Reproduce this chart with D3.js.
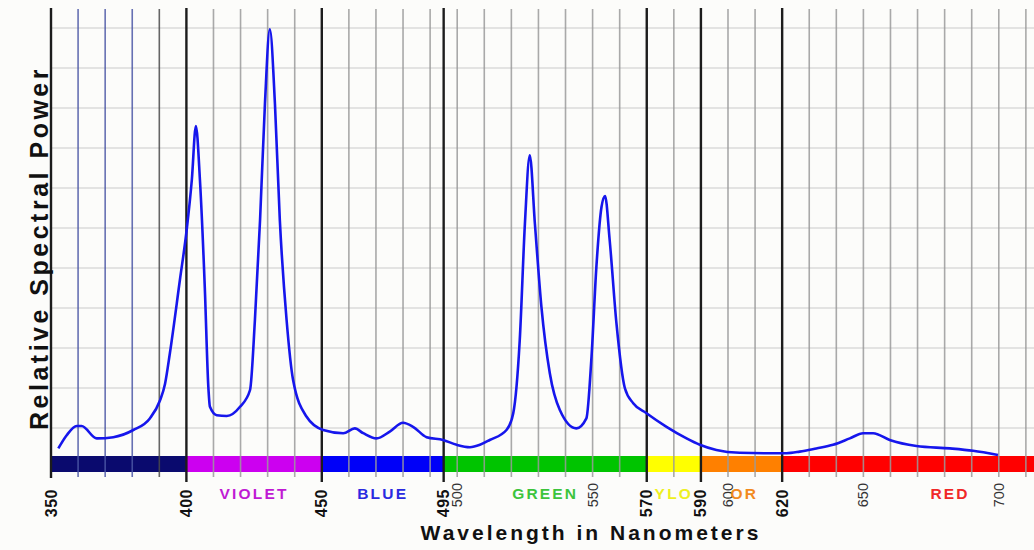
<!DOCTYPE html>
<html>
    <head>
        <title>Relative Spectral Power</title>
        <script src="https://d3js.org/d3.v7.min.js"></script>
    </head>
    <style>
        body { margin: 0; background: #fcfcfa; }
        svg { display: block; font-family: "Liberation Sans", Arial, sans-serif; }
    </style>
    <body>
        <div class="graph"></div>
        <script>
            // spectrum (nm, relative power)
            const wavelengths = [352.7, 355.8, 359.5, 361.3, 366.9, 373, 380.4, 386.5, 390.2, 392.1,
                393.9, 397.6, 400.1, 402, 403.5, 405, 406.8, 408.1, 408.7, 411.2,
                414.9, 419.8, 423.5, 425.3, 427.2, 429, 430.8, 432.7, 434.5, 437,
                439.4, 444.4, 450.5, 457.9, 462.2, 465.3, 470.2, 475.1, 480, 483.7,
                488.7, 494.8, 499.8, 504.7, 508.4, 512, 518.2, 520.7, 523.1, 525,
                526.8, 528.7, 531.1, 534.2, 537.9, 544, 547.7, 549.6, 551.4, 553.3,
                554.6, 556.3, 558.8, 561.9, 565, 569.9, 577.3, 584.7, 589.6, 595.7,
                604.3, 614.2, 621.6, 626.5, 632.6, 638.8, 645, 649.9, 653.6, 659.7,
                669.6, 681.9, 690.5, 699.7];
            const power = [4.9, 8.2, 10.5, 10.5, 7.4, 7.7, 9.5, 12.4, 16.8, 21,
                28.7, 47, 59.5, 72, 85.5, 72, 45, 20.3, 15.3, 13.2,
                13, 15.3, 19.5, 37, 62, 91, 109.7, 91, 62, 37,
                22, 12.8, 9.5, 8.7, 9.9, 8.7, 7.4, 9.1, 11.3, 10.3,
                7.7, 7, 5.8, 5.2, 5.8, 7, 9.5, 13.7, 32, 61,
                78.2, 61, 40.3, 23.7, 14.5, 9.9, 12.4, 27.8, 50.3, 65.3,
                68, 57, 36.2, 20, 16.2, 13.7, 10.3, 7.4, 5.8, 4.5,
                3.8, 3.7, 3.7, 4.1, 4.9, 5.8, 7.4, 8.7, 8.7, 7,
                5.5, 4.9, 4.3, 3.25];

            const majorTicks = [350, 400, 450, 495, 570, 590, 620];
            const minorLabels = [500, 550, 600, 650, 700];
            const gridLines = d3.range(360, 711, 10);
            const powerGrid = [10, 20, 30, 40, 50, 60, 70, 80, 90, 100, 110];

            const bandEdges = [350, 400, 450, 495, 570, 590, 620, 713];
            const bandNames = ['', 'VIOLET', 'BLUE', 'GREEN', 'YLO', 'OR', 'RED'];
            const bandNameAt = [375, 425, 472.5, 532.5, 580, 606, 682];

            const bandColours = ['#0a0a6e', '#cc00f0', '#0000f8', '#00c400', '#ffff00', '#ff8000', '#ff0000'];
            const nameColours = ['#000', '#c01ad4', '#2a2ae0', '#3cc43c', '#eef020', '#f28a1e', '#f02828'];

            const width = 1034;
            const height = 550;
            const bandTop = 456;
            const bandBottom = 472;

            const x = d3.scaleLinear()
                .domain([350, 713])
                .range([51, 1034]);

            const y = d3.scaleLinear()
                .domain([0, 115])
                .range([468, 8]);

            const chart = d3.select('.graph')
                .append('svg')
                .attr('width', width)
                .attr('height', height);

            // horizontal grid
            chart.append('g')
                .selectAll('line')
                .data(powerGrid)
                .enter()
                .append('line')
                .attr('x1', x(350))
                .attr('x2', x(713))
                .attr('y1', d => y(d))
                .attr('y2', d => y(d))
                .attr('stroke', '#c9c9c9')
                .attr('stroke-width', 1.2);

            // colour band
            chart.append('g')
                .selectAll('rect')
                .data(bandEdges.slice(0, -1))
                .enter()
                .append('rect')
                .attr('x', d => x(d))
                .attr('width', (d, i) => x(bandEdges[i + 1]) - x(d))
                .attr('y', bandTop)
                .attr('height', bandBottom - bandTop)
                .attr('fill', (d, i) => bandColours[i]);

            // minor vertical grid
            const minor = gridLines.filter(d => majorTicks.indexOf(d) < 0);
            chart.append('g')
                .selectAll('line')
                .data(minor)
                .enter()
                .append('line')
                .attr('x1', d => x(d))
                .attr('x2', d => x(d))
                .attr('y1', 9)
                .attr('y2', 477)
                .attr('stroke', d => d < 390 ? '#4b57a6' : (d == 390 ? '#4a4a4a' : '#9a9a9a'))
                .attr('stroke-opacity', 0.85)
                .attr('stroke-width', 1.6);

            // major vertical lines
            chart.append('g')
                .selectAll('line')
                .data(majorTicks)
                .enter()
                .append('line')
                .attr('x1', d => x(d))
                .attr('x2', d => x(d))
                .attr('y1', 8)
                .attr('y2', d => d == 350 ? 478 : 482)
                .attr('stroke', '#1c1c1c')
                .attr('stroke-width', 2.4);

            // spectrum
            const line = d3.line()
                .x(d => x(d[0]))
                .y(d => y(d[1]))
                .curve(d3.curveMonotoneX);

            chart.append('path')
                .datum(wavelengths.map((w, i) => [w, power[i]]))
                .attr('d', line)
                .attr('fill', 'none')
                .attr('stroke', '#1616ec')
                .attr('stroke-width', 2.6)
                .attr('stroke-linejoin', 'round');

            // tick labels
            chart.append('g')
                .selectAll('text')
                .data(majorTicks)
                .enter()
                .append('text')
                .attr('transform', d => `translate(${x(d)}, 489) rotate(-90)`)
                .attr('text-anchor', 'end')
                .attr('dominant-baseline', 'central')
                .attr('font-size', 16)
                .attr('font-weight', 'bold')
                .attr('letter-spacing', 0.5)
                .attr('fill', '#111')
                .text(d => d);

            chart.append('g')
                .selectAll('text')
                .data(minorLabels)
                .enter()
                .append('text')
                .attr('transform', d => `translate(${x(d)}, 483) rotate(-90)`)
                .attr('text-anchor', 'end')
                .attr('dominant-baseline', 'central')
                .attr('font-size', 14.5)
                .attr('fill', '#333')
                .text(d => d);

            // colour names
            chart.append('g')
                .selectAll('text')
                .data(bandNames)
                .enter()
                .append('text')
                .attr('x', (d, i) => x(bandNameAt[i]))
                .attr('y', 498.5)
                .attr('text-anchor', 'middle')
                .attr('font-size', 15.5)
                .attr('font-weight', 'bold')
                .attr('letter-spacing', 2.2)
                .attr('fill', (d, i) => nameColours[i])
                .text(d => d);

            // axis titles
            chart.append('text')
                .attr('x', 591)
                .attr('y', 540)
                .attr('text-anchor', 'middle')
                .attr('font-size', 21)
                .attr('font-weight', 'bold')
                .attr('letter-spacing', 3)
                .attr('fill', '#111')
                .text('Wavelength in Nanometers');

            chart.append('text')
                .attr('transform', 'translate(48, 248) rotate(-90)')
                .attr('text-anchor', 'middle')
                .attr('font-size', 25)
                .attr('font-weight', 'bold')
                .attr('letter-spacing', 3.5)
                .attr('fill', '#111')
                .text('Relative Spectral Power');
        </script>
    </body>
</html>
